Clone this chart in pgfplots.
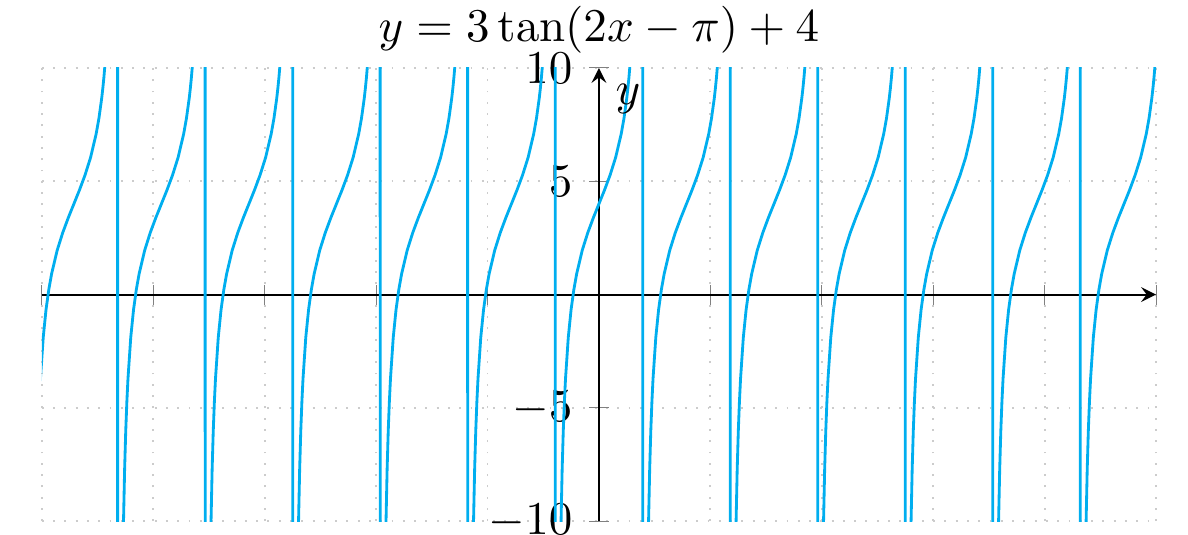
\documentclass[border=0pt]{standalone}
\usepackage{pgfplots}
\pgfplotsset{compat=1.18}
\usepackage{pgfplotstable}
\definecolor{curve}{RGB}{0,174,239}
\pgfplotstableread{
x y
-10.205 -273.86
-10.125 -13.39
-10.105 -10.02
-10.085 -7.71
-10.065 -6.02
-10.045 -4.74
-10.025 -3.72
-9.975 -1.89
-9.925 -0.67
-9.875 0.22
-9.825 0.91
-9.725 1.95
-9.625 2.73
-9.525 3.39
-9.425 4
-9.325 4.61
-9.225 5.27
-9.125 6.05
-9.025 7.09
-8.975 7.78
-8.925 8.67
-8.905 9.11
-8.885 9.61
-8.865 10.20
-8.845 10.89
-8.825 11.72
-8.645 281.86
-8.634 -273.86
-8.554 -13.39
-8.534 -10.02
-8.514 -7.71
-8.494 -6.02
-8.474 -4.74
-8.454 -3.72
-8.404 -1.89
-8.354 -0.67
-8.304 0.22
-8.254 0.91
-8.154 1.95
-8.054 2.73
-7.954 3.39
-7.854 4
-7.754 4.61
-7.654 5.27
-7.554 6.05
-7.454 7.09
-7.404 7.78
-7.354 8.67
-7.334 9.11
-7.314 9.61
-7.294 10.20
-7.274 10.89
-7.254 11.72
-7.074 281.86
-7.063 -273.86
-6.983 -13.39
-6.963 -10.02
-6.943 -7.71
-6.923 -6.02
-6.903 -4.74
-6.883 -3.72
-6.833 -1.89
-6.783 -0.67
-6.733 0.22
-6.683 0.91
-6.583 1.95
-6.483 2.73
-6.383 3.39
-6.283 4
-6.183 4.61
-6.083 5.27
-5.983 6.05
-5.883 7.09
-5.833 7.78
-5.783 8.67
-5.763 9.11
-5.743 9.61
-5.723 10.20
-5.703 10.89
-5.683 11.72
-5.503 281.86
-5.492 -273.86
-5.412 -13.39
-5.392 -10.02
-5.372 -7.71
-5.352 -6.02
-5.332 -4.74
-5.312 -3.72
-5.262 -1.89
-5.212 -0.67
-5.162 0.22
-5.112 0.91
-5.012 1.95
-4.912 2.73
-4.812 3.39
-4.712 4
-4.612 4.61
-4.512 5.27
-4.412 6.05
-4.312 7.09
-4.262 7.78
-4.212 8.67
-4.192 9.11
-4.172 9.61
-4.152 10.20
-4.132 10.89
-4.112 11.72
-3.932 281.86
-3.922 -273.86
-3.842 -13.39
-3.822 -10.02
-3.802 -7.71
-3.782 -6.02
-3.762 -4.74
-3.742 -3.72
-3.692 -1.89
-3.642 -0.67
-3.592 0.22
-3.542 0.91
-3.442 1.95
-3.342 2.73
-3.242 3.39
-3.142 4
-3.042 4.61
-2.942 5.27
-2.842 6.05
-2.742 7.09
-2.692 7.78
-2.642 8.67
-2.622 9.11
-2.602 9.61
-2.582 10.20
-2.562 10.89
-2.542 11.72
-2.362 281.86
-2.351 -273.86
-2.271 -13.39
-2.251 -10.02
-2.231 -7.71
-2.211 -6.02
-2.191 -4.74
-2.171 -3.72
-2.121 -1.89
-2.071 -0.67
-2.021 0.22
-1.971 0.91
-1.871 1.95
-1.771 2.73
-1.671 3.39
-1.571 4
-1.471 4.61
-1.371 5.27
-1.271 6.05
-1.171 7.09
-1.121 7.78
-1.071 8.67
-1.051 9.11
-1.031 9.61
-1.011 10.20
-0.991 10.89
-0.971 11.72
-0.791 281.86
-0.780 -273.86
-0.700 -13.39
-0.680 -10.02
-0.660 -7.71
-0.640 -6.02
-0.620 -4.74
-0.600 -3.72
-0.550 -1.89
-0.500 -0.67
-0.450 0.22
-0.400 0.91
-0.300 1.95
-0.200 2.73
-0.100 3.39
0.000 4
0.100 4.61
0.200 5.27
0.300 6.05
0.400 7.09
0.450 7.78
0.500 8.67
0.520 9.11
0.540 9.61
0.560 10.20
0.580 10.89
0.600 11.72
0.780 281.86
0.791 -273.86
0.871 -13.39
0.891 -10.02
0.911 -7.71
0.931 -6.02
0.951 -4.74
0.971 -3.72
1.021 -1.89
1.071 -0.67
1.121 0.22
1.171 0.91
1.271 1.95
1.371 2.73
1.471 3.39
1.571 4
1.671 4.61
1.771 5.27
1.871 6.05
1.971 7.09
2.021 7.78
2.071 8.67
2.091 9.11
2.111 9.61
2.131 10.20
2.151 10.89
2.171 11.72
2.351 281.86
2.362 -273.86
2.442 -13.39
2.462 -10.02
2.482 -7.71
2.502 -6.02
2.522 -4.74
2.542 -3.72
2.592 -1.89
2.642 -0.67
2.692 0.22
2.742 0.91
2.842 1.95
2.942 2.73
3.042 3.39
3.142 4
3.242 4.61
3.342 5.27
3.442 6.05
3.542 7.09
3.592 7.78
3.642 8.67
3.662 9.11
3.682 9.61
3.702 10.20
3.722 10.89
3.742 11.72
3.922 281.86
3.932 -273.86
4.012 -13.39
4.032 -10.02
4.052 -7.71
4.072 -6.02
4.092 -4.74
4.112 -3.72
4.162 -1.89
4.212 -0.67
4.262 0.22
4.312 0.91
4.412 1.95
4.512 2.73
4.612 3.39
4.712 4
4.812 4.61
4.912 5.27
5.012 6.05
5.112 7.09
5.162 7.78
5.212 8.67
5.232 9.11
5.252 9.61
5.272 10.20
5.292 10.89
5.312 11.72
5.492 281.86
5.503 -273.86
5.583 -13.39
5.603 -10.02
5.623 -7.71
5.643 -6.02
5.663 -4.74
5.683 -3.72
5.733 -1.89
5.783 -0.67
5.833 0.22
5.883 0.91
5.983 1.95
6.083 2.73
6.183 3.39
6.283 4
6.383 4.61
6.483 5.27
6.583 6.05
6.683 7.09
6.733 7.78
6.783 8.67
6.803 9.11
6.823 9.61
6.843 10.20
6.863 10.89
6.883 11.72
7.063 281.86
7.074 -273.86
7.154 -13.39
7.174 -10.02
7.194 -7.71
7.214 -6.02
7.234 -4.74
7.254 -3.72
7.304 -1.89
7.354 -0.67
7.404 0.22
7.454 0.91
7.554 1.95
7.654 2.73
7.754 3.39
7.854 4
7.954 4.61
8.054 5.27
8.154 6.05
8.254 7.09
8.304 7.78
8.354 8.67
8.374 9.11
8.394 9.61
8.414 10.20
8.434 10.89
8.454 11.72
8.634 281.86
8.645 -273.86
8.725 -13.39
8.745 -10.02
8.765 -7.71
8.785 -6.02
8.805 -4.74
8.825 -3.72
8.875 -1.89
8.925 -0.67
8.975 0.22
9.025 0.91
9.125 1.95
9.225 2.73
9.325 3.39
9.425 4
9.525 4.61
9.625 5.27
9.725 6.05
9.825 7.09
9.875 7.78
9.925 8.67
9.945 9.11
9.965 9.61
9.985 10.20
10.005 10.89
10.025 11.72
10.205 281.86
}\tandata
\begin{document}
\begin{tikzpicture}
\begin{axis}[
  scale only axis,
  width=237pt, height=96.4pt,
  axis lines=middle,
  xmin=-10, xmax=10, ymin=-10, ymax=10,
  xtick={-10,-8,-6,-4,-2,2,4,6,8,10},
  xticklabels={},
  ytick={-10,-5,5,10},
  grid=major,
  grid style={dotted, gray!40},
  tick style={gray},
  tick align=center,
  ylabel={$y$},
  ylabel style={at={(axis description cs:0.5,1)}, anchor=north west, rotate=0},
  every axis title shift=-0.4pt,
  title={$y = 3\tan(2x-\pi)+4$},
]
\addplot[curve, semithick] table {\tandata};
\coordinate (pSW) at (rel axis cs:0,0);
\coordinate (pNE) at (rel axis cs:1,1);
\end{axis}
\pgfresetboundingbox
\path ([xshift=-8.9pt,yshift=-2.77pt]pSW) rectangle ([xshift=6.8pt,yshift=14.47pt]pNE);
\end{tikzpicture}
\end{document}
